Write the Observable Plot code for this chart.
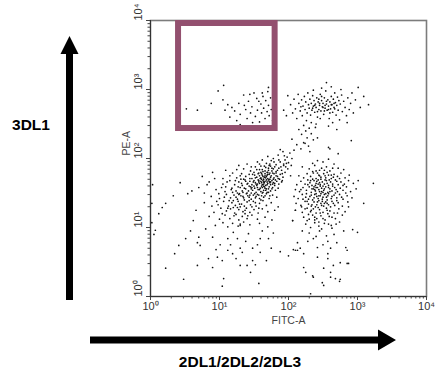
<!DOCTYPE html>
<html><head><meta charset="utf-8">
<script src="https://cdn.jsdelivr.net/npm/d3@7"></script>
<script src="https://cdn.jsdelivr.net/npm/@observablehq/plot@0.6"></script>
<style>html,body{margin:0;padding:0;background:#fff;} #chart{width:439px;height:370px;}</style>
</head><body><div id="chart"></div>
<script>
// Axis ticks and labels
const majorTicks = [1, 10, 100, 1000, 10000];
const tickLabels = ["10⁰", "10¹", "10²", "10³", "10⁴"];
const minorMultipliers = [2, 3, 4, 5, 6, 7, 8, 9];
const xAxisTitle = "FITC-A";
const yAxisTitle = "PE-A";
const xMarkerLabel = "2DL1/2DL2/2DL3";
const yMarkerLabel = "3DL1";

// Gate (FITC range, PE range)
const gateFitc = [2.55, 64];
const gatePe = [272, 9050];

// Events as [log10 FITC-A, log10 PE-A]
const gateEvents = [[0.52,2.72],[0.68,2.70],[0.98,2.98],[1.05,2.85],[1.12,2.78],[1.18,2.74],[1.22,2.69],[1.28,2.80],[1.30,2.64],[1.35,2.92],[1.38,2.71],[1.40,2.58],[1.42,2.83],[1.45,2.66],[1.47,2.75],[1.50,2.95],[1.52,2.61],[1.54,2.87],[1.55,2.70],[1.58,2.53],[1.60,2.79],[1.61,2.66],[1.63,2.90],[1.64,2.73],[1.66,2.58],[1.67,2.84],[1.69,2.68],[1.70,2.97],[1.71,2.77],[1.72,2.62],[1.74,2.88],[1.75,2.71],[1.77,2.55],[1.78,2.81],[1.80,2.66],[1.30,2.49],[1.25,2.55],[1.15,2.60],[1.48,2.52],[1.36,2.77],[1.57,2.83],[1.62,2.95],[1.08,2.70],[0.88,2.80],[1.44,2.93],[1.06,3.06],[1.71,3.03]];
const upperRightEvents = [[1.93,2.70],[1.99,2.91],[1.97,2.62],[2.03,2.78],[2.06,2.66],[2.08,2.86],[2.10,2.72],[2.12,2.58],[2.14,2.93],[2.15,2.80],[2.17,2.69],[2.19,2.85],[2.20,2.62],[2.21,2.76],[2.23,2.90],[2.24,2.71],[2.25,2.82],[2.26,2.55],[2.27,2.66],[2.28,2.95],[2.29,2.78],[2.30,2.73],[2.31,2.86],[2.32,2.63],[2.33,2.80],[2.34,2.70],[2.35,2.91],[2.36,2.76],[2.37,2.84],[2.38,2.67],[2.39,2.79],[2.40,2.74],[2.41,2.88],[2.42,2.60],[2.43,2.82],[2.44,2.71],[2.45,2.77],[2.46,2.93],[2.47,2.69],[2.48,2.84],[2.49,2.75],[2.50,2.80],[2.51,2.64],[2.52,2.88],[2.53,2.73],[2.54,2.98],[2.55,2.79],[2.56,2.70],[2.57,2.85],[2.58,2.76],[2.59,2.58],[2.60,2.82],[2.61,2.72],[2.62,2.90],[2.63,2.78],[2.64,2.67],[2.65,2.86],[2.66,2.74],[2.67,2.95],[2.68,2.81],[2.69,2.63],[2.70,2.77],[2.71,2.89],[2.72,2.70],[2.73,2.84],[2.74,2.56],[2.75,2.79],[2.77,2.92],[2.78,2.68],[2.80,2.83],[2.82,2.74],[2.84,2.62],[2.86,2.88],[2.88,2.71],[2.90,2.80],[2.92,2.95],[2.94,2.66],[2.97,2.85],[3.01,3.03],[3.04,2.74],[3.09,2.90],[3.16,2.78],[2.55,3.10],[2.48,3.02],[2.62,3.04],[2.36,2.99],[2.76,3.00],[2.40,2.50],[2.58,2.47],[2.70,2.42],[2.85,2.52],[2.46,2.58],[2.33,2.52],[2.64,2.52],[2.18,2.75],[2.52,2.69],[2.44,2.86],[2.60,2.66],[2.67,2.72],[2.38,2.77],
[2.50,2.74],[2.55,2.83],[2.45,2.80],[2.58,2.71],[2.42,2.68],[2.35,2.73],[2.62,2.78],[2.48,2.90],[2.53,2.77],[2.66,2.80]];
const bridgeEvents = [[2.22,2.48],[2.25,2.40],[2.30,2.44],[2.19,2.35],[2.27,2.30],[2.33,2.36],[2.24,2.22],[2.29,2.18],[2.36,2.27],[2.18,2.14],[2.31,2.10],[2.12,2.20],[2.08,2.12],[2.39,2.45],[2.15,2.42],[2.05,2.28],[2.60,2.14],[2.42,2.30],[2.91,2.26],[2.58,2.16],[2.72,2.07],[2.22,2.23]];
const diagonalEvents = [[1.85,2.05],[1.92,2.10],[1.98,2.02],[2.02,2.08],[1.78,2.00],[1.95,1.98],[2.05,2.00],[1.88,2.13],[1.70,2.03],
[1.55,1.95],[1.68,1.93],[1.75,1.97],[1.82,1.91],[1.88,1.95],[1.93,1.92],[2.00,1.94],[1.62,1.98],[1.72,1.90],[1.96,1.88],[1.40,1.92],[2.04,1.90],
[1.35,1.85],[1.45,1.82],[1.52,1.88],[1.58,1.84],[1.63,1.81],[1.67,1.87],[1.71,1.83],[1.74,1.89],[1.78,1.85],[1.82,1.81],[1.86,1.86],[1.90,1.83],[1.95,1.80],[1.60,1.89],[1.69,1.80],[1.76,1.82],[1.80,1.88],[1.50,1.80],[1.25,1.84],[1.09,1.83],[0.90,1.80],[1.99,1.85],
[1.15,1.75],[1.25,1.72],[1.32,1.78],[1.38,1.74],[1.43,1.77],[1.47,1.71],[1.51,1.76],[1.54,1.73],[1.57,1.79],[1.60,1.72],[1.62,1.76],[1.64,1.70],[1.66,1.78],[1.68,1.74],[1.70,1.71],[1.72,1.77],[1.74,1.73],[1.77,1.79],[1.79,1.72],[1.82,1.75],[1.85,1.71],[1.88,1.77],[1.92,1.73],[1.58,1.75],[1.65,1.73],[1.73,1.79],[1.61,1.78],[1.69,1.76],[1.05,1.71],[0.75,1.74],
[1.05,1.63],[1.15,1.68],[1.22,1.62],[1.28,1.66],[1.33,1.61],[1.37,1.69],[1.41,1.64],[1.44,1.67],[1.47,1.62],[1.50,1.68],[1.52,1.65],[1.54,1.61],[1.56,1.69],[1.58,1.64],[1.60,1.67],[1.62,1.62],[1.63,1.68],[1.65,1.65],[1.67,1.61],[1.68,1.69],[1.70,1.64],[1.72,1.67],[1.74,1.62],[1.76,1.68],[1.78,1.65],[1.80,1.61],[1.83,1.67],[1.86,1.63],[1.90,1.66],[1.61,1.65],[1.64,1.63],[1.66,1.67],[1.69,1.62],[1.57,1.66],[1.53,1.63],[1.73,1.65],[0.43,1.65],[0.85,1.66],
[0.95,1.55],[1.08,1.52],[1.18,1.57],[1.24,1.53],[1.30,1.58],[1.34,1.51],[1.38,1.56],[1.42,1.53],[1.45,1.59],[1.48,1.54],[1.51,1.57],[1.53,1.51],[1.55,1.58],[1.58,1.55],[1.60,1.52],[1.62,1.58],[1.64,1.54],[1.66,1.57],[1.69,1.51],[1.71,1.56],[1.74,1.53],[1.77,1.58],[1.81,1.54],[1.85,1.57],[1.56,1.55],[1.63,1.51],[1.47,1.58],[1.67,1.54],[1.40,1.50],[0.70,1.58],[0.60,1.53],
[0.54,1.49],[0.33,1.46],[0.88,1.45],[1.00,1.42],[1.10,1.48],[1.16,1.43],[1.21,1.47],[1.26,1.41],[1.31,1.46],[1.35,1.43],[1.39,1.49],[1.43,1.44],[1.46,1.41],[1.49,1.47],[1.52,1.43],[1.55,1.48],[1.58,1.42],[1.61,1.46],[1.64,1.44],[1.68,1.49],[1.72,1.42],[1.77,1.47],[1.83,1.44],[1.44,1.47],[1.36,1.40],[1.53,1.45],[1.28,1.48],
[0.22,1.35],[0.78,1.36],[0.98,1.33],[1.06,1.38],[1.13,1.31],[1.18,1.36],[1.23,1.32],[1.27,1.38],[1.32,1.34],[1.36,1.31],[1.40,1.37],[1.45,1.33],[1.49,1.38],[1.53,1.31],[1.58,1.35],[1.63,1.39],[1.68,1.32],[1.75,1.36],[1.85,1.30],[1.30,1.30],[1.43,1.39],[1.20,1.39],
[0.17,1.29],[0.66,1.25],[0.92,1.22],[1.02,1.28],[1.10,1.24],[1.16,1.27],[1.22,1.21],[1.28,1.26],[1.34,1.23],[1.39,1.28],[1.44,1.22],[1.50,1.26],[1.56,1.21],[1.62,1.27],[1.70,1.23],[1.80,1.25],[1.26,1.29],[1.37,1.20],
[0.62,1.10],[0.85,1.16],[1.00,1.12],[1.08,1.18],[1.15,1.13],[1.21,1.17],[1.28,1.11],[1.33,1.16],[1.40,1.13],[1.47,1.18],[1.55,1.12],[1.66,1.15],[1.76,1.11],[1.24,1.19],
[0.94,1.03],[1.05,1.07],[1.12,1.01],[1.19,1.06],[1.27,1.02],[1.35,1.08],[1.44,1.04],[1.58,1.06],[1.70,1.01],[1.30,1.05],
[1.59,1.71],[1.63,1.74],[1.67,1.72],[1.71,1.69],[1.75,1.75],[1.57,1.68],[1.61,1.60],[1.65,1.59],[1.69,1.66],[1.73,1.70],[1.77,1.63],[1.81,1.69],[1.84,1.74],[1.79,1.78],[1.70,1.80],[1.66,1.82],[1.62,1.84],[1.56,1.78],[1.52,1.72],[1.49,1.66],[1.46,1.56],[1.50,1.60],[1.55,1.63],[1.59,1.57],[1.64,1.60],[1.68,1.56],[1.72,1.59],[1.76,1.56],[1.80,1.64],[1.87,1.70],[1.91,1.78],[1.84,1.83],[1.76,1.86],[1.73,1.92],[1.79,1.95],[1.86,1.98],[1.94,2.04],[1.89,1.88],[1.97,1.93],[1.60,1.80],[1.54,1.84],[1.48,1.77],[1.44,1.71],[1.40,1.63],[1.36,1.57],[1.33,1.53],[1.29,1.49],[1.41,1.46],[1.46,1.50],[1.51,1.49],[1.57,1.47],[1.62,1.50],[1.66,1.46],[1.71,1.51],[1.24,1.44],[1.19,1.51],[1.27,1.59],[1.32,1.64],[1.38,1.67],[1.43,1.60],[1.35,1.70],[1.30,1.75],[1.58,1.92],[1.65,1.89],[1.71,1.86],[1.82,1.79],[1.61,1.70],[1.64,1.66],[1.66,1.75],[1.70,1.77],[1.74,1.66],[1.78,1.70],
[0.82,1.62],[0.93,1.71],[0.99,1.49],[1.03,1.58],[1.07,1.44],[1.11,1.66],[1.14,1.39],[1.17,1.55],[1.20,1.29],[1.23,1.68],[1.26,1.50],[1.29,1.34],[1.31,1.70],[1.34,1.45],[1.37,1.25],[1.12,1.28],[1.04,1.20],[0.96,1.38],[0.89,1.31],[1.47,1.30],[1.52,1.36],[1.57,1.28],[1.41,1.17],[1.09,1.59],[1.19,1.79],[1.28,1.90],[1.46,1.88],[0.78,1.50],[1.60,1.40],[1.73,1.46]];
const rightEvents = [[2.30,1.85],[2.38,1.90],[2.45,1.83],[2.50,1.95],[2.55,1.88],[2.60,1.82],[2.66,1.92],[2.72,1.86],[2.42,1.97],[2.35,1.81],[2.58,1.99],[2.80,1.84],[2.20,1.88],[2.48,1.86],
[2.15,1.75],[2.22,1.72],[2.27,1.78],[2.32,1.74],[2.36,1.79],[2.40,1.71],[2.44,1.76],[2.47,1.73],[2.51,1.78],[2.54,1.72],[2.58,1.76],[2.62,1.71],[2.66,1.77],[2.71,1.74],[2.76,1.79],[2.82,1.72],[2.88,1.76],[2.42,1.79],[2.56,1.80],[3.01,1.68],
[2.12,1.62],[2.18,1.67],[2.24,1.63],[2.28,1.69],[2.31,1.65],[2.34,1.61],[2.37,1.68],[2.40,1.64],[2.43,1.69],[2.46,1.62],[2.49,1.66],[2.52,1.63],[2.55,1.68],[2.58,1.61],[2.61,1.66],[2.64,1.63],[2.68,1.69],[2.72,1.62],[2.76,1.66],[2.81,1.63],[2.87,1.68],[2.94,1.64],[3.23,1.64],[2.45,1.65],[2.39,1.61],[2.53,1.69],
[2.10,1.55],[2.16,1.52],[2.21,1.58],[2.26,1.54],[2.30,1.59],[2.33,1.51],[2.36,1.56],[2.39,1.53],[2.42,1.58],[2.45,1.52],[2.48,1.57],[2.51,1.54],[2.54,1.59],[2.57,1.51],[2.60,1.56],[2.63,1.53],[2.67,1.58],[2.71,1.52],[2.75,1.57],[2.79,1.54],[2.84,1.59],[2.90,1.52],[2.98,1.56],[2.44,1.55],[2.50,1.51],[2.37,1.59],
[2.08,1.45],[2.14,1.42],[2.20,1.48],[2.25,1.44],[2.29,1.41],[2.33,1.47],[2.37,1.43],[2.40,1.49],[2.43,1.42],[2.46,1.46],[2.49,1.41],[2.52,1.48],[2.55,1.44],[2.58,1.49],[2.62,1.42],[2.66,1.47],[2.70,1.43],[2.74,1.48],[2.79,1.41],[2.85,1.46],[2.92,1.43],[2.47,1.49],[2.41,1.45],[2.56,1.40],
[2.11,1.35],[2.18,1.32],[2.24,1.38],[2.29,1.34],[2.33,1.31],[2.37,1.37],[2.41,1.33],[2.44,1.39],[2.47,1.35],[2.51,1.31],[2.54,1.37],[2.58,1.33],[2.63,1.38],[2.67,1.32],[2.72,1.36],[2.78,1.31],[2.86,1.37],[3.09,1.35],[2.49,1.38],[2.39,1.30],
[2.10,1.25],[2.20,1.22],[2.27,1.28],[2.32,1.23],[2.36,1.27],[2.40,1.21],[2.45,1.26],[2.50,1.22],[2.55,1.28],[2.60,1.24],[2.66,1.21],[2.73,1.27],[2.82,1.23],[2.43,1.29],
[2.06,1.10],[2.22,1.15],[2.30,1.12],[2.35,1.18],[2.41,1.13],[2.47,1.17],[2.53,1.11],[2.59,1.16],[2.68,1.13],[2.78,1.18],[2.38,1.11],
[2.25,1.05],[2.32,1.00],[2.38,1.07],[2.44,1.02],[2.52,1.06],[2.62,1.03],[2.74,1.08],[2.93,0.97],[3.00,0.93],
[2.36,0.84],[2.42,0.71],[2.57,0.62],[2.83,0.71],[2.85,0.48],[2.22,0.42],[2.51,0.41],[2.36,0.28],[2.75,0.25],[2.32,0.04],[2.00,0.59],[2.13,0.67],[2.61,0.35],[2.68,0.26],[2.49,0.20],[2.85,0.67],[2.75,0.49],[2.87,0.48],[2.65,0.45],[2.25,0.35],[2.35,0.30],[2.61,0.28],[2.74,0.22],[2.51,0.16],[2.13,0.78],[2.10,0.67],[2.22,0.62],[2.42,0.57],[2.57,0.55],[2.61,0.70],[2.57,0.80],[2.17,0.70],[2.30,0.92],[2.45,0.95],[2.55,0.88],[2.66,0.90],[2.28,0.80],[2.70,0.78],[2.40,0.87],[2.50,0.75],[2.07,0.68],[2.20,0.95],[2.80,0.95],[2.63,0.99],
[1.93,1.90],[1.91,1.68],[2.03,1.75],[2.10,1.25],[2.06,1.10],
[2.35,1.70],[2.41,1.67],[2.47,1.70],[2.53,1.75],[2.59,1.69],[2.65,1.73],[2.70,1.67],[2.34,1.56],[2.40,1.58],[2.46,1.60],[2.52,1.56],[2.58,1.58],[2.64,1.60],[2.69,1.55],[2.31,1.45],[2.38,1.48],[2.44,1.46],[2.50,1.44],[2.57,1.46],[2.63,1.45],[2.68,1.50],[2.27,1.38],[2.35,1.40],[2.42,1.37],[2.48,1.32],[2.56,1.35],[2.61,1.30],[2.70,1.39],[2.28,1.62],[2.32,1.68],[2.62,1.76],[2.74,1.71],[2.79,1.61],[2.83,1.50],[2.77,1.44],[2.33,1.25],[2.46,1.21],[2.57,1.20],[2.38,1.15],[2.50,1.13],[2.26,1.49],[2.21,1.41],[2.18,1.55],[2.48,1.52],[2.54,1.49],[2.60,1.52],[2.43,1.63],[2.56,1.64],[2.50,1.60],[2.38,1.55],[2.45,1.75],[2.40,1.82],[2.52,1.83],[2.64,1.86],[2.35,1.93],
[2.24,1.27],[2.29,1.19],[2.44,1.08],[2.56,1.25],[2.63,1.15],[2.71,1.21],[2.58,1.05],[2.34,1.33],[2.52,1.35],[2.65,1.35],[2.27,1.10],[2.48,0.98],[2.69,1.05],[2.19,1.30],[2.87,1.30]];
const scatterEvents = [[0.02,1.07],[0.07,0.96],[0.22,0.41],[0.48,0.25],[0.41,0.74],[0.51,0.84],[0.68,0.45],[0.72,0.74],[0.70,0.86],[0.90,0.42],[0.84,0.55],[0.97,0.57],[1.04,0.52],[1.06,0.26],[1.04,0.15],[1.01,0.75],[1.12,0.67],[1.19,0.62],[1.16,0.75],[1.12,0.84],[1.26,0.84],[1.30,0.70],[1.33,0.64],[1.30,0.45],[1.40,0.45],[1.45,0.35],[1.48,0.52],[1.48,0.70],[1.52,0.46],[1.59,0.64],[1.59,0.84],[1.57,0.19],[1.68,0.52],[1.71,0.84],[1.88,0.65],[0.68,0.78],[0.90,0.86],[1.20,0.93],[1.42,0.91],[1.30,1.03],[0.58,0.95],[0.80,0.98],[1.62,0.95],[1.78,0.92],[1.38,0.80],[1.24,0.55],[0.35,0.62],[0.95,0.68],[1.55,0.75],[1.75,0.70],[0.12,1.20],[0.05,0.90],[0.02,1.35],[0.03,1.62]];

const events = [...gateEvents, ...upperRightEvents, ...bridgeEvents, ...diagonalEvents, ...rightEvents, ...scatterEvents];
const minorTicks = majorTicks.slice(0, 4).flatMap(m => minorMultipliers.map(k => k * m));
const gate = [{x1: gateFitc[0], x2: gateFitc[1], y1: gatePe[0], y2: gatePe[1]}];

const font = "'Liberation Sans', Arial, sans-serif";
const chart = Plot.plot({
  width: 439, height: 370,
  marginLeft: 150, marginRight: 13, marginTop: 20, marginBottom: 74,
  x: {type: "log", domain: [1, 1e4]},
  y: {type: "log", domain: [1, 1e4]},
  style: {fontFamily: font, fontSize: "10px", color: "#333", background: "#fff"},
  marks: [
    Plot.frame({stroke: "#7c7c7c", strokeWidth: 1.6}),
    Plot.dot(events, {x: d => 10 ** d[0], y: d => 10 ** d[1], r: 0.85, fill: "#111", stroke: null}),
    Plot.rect(gate, {x1: "x1", x2: "x2", y1: "y1", y2: "y2", stroke: "#93506f", strokeWidth: 6, fill: "none"}),
    Plot.axisX({ticks: minorTicks, tickSize: 2.5, tickFormat: () => "", label: null, stroke: "#444"}),
    Plot.axisX({ticks: majorTicks, tickSize: 4, tickFormat: () => "", label: null, stroke: "#444"}),
    Plot.axisY({ticks: minorTicks, tickSize: 2.5, tickFormat: () => "", label: null, stroke: "#444"}),
    Plot.axisY({ticks: majorTicks, tickSize: 4, tickFormat: () => "", label: null, stroke: "#444"}),
    Plot.ruleX([1], {stroke: "#333"}),
    Plot.ruleY([1], {stroke: "#333"}),
    Plot.text(majorTicks, {x: d => d, text: (d, i) => tickLabels[i], frameAnchor: "bottom", dy: 10, lineAnchor: "middle", fill: "#333", fontSize: 11}),
    Plot.text(majorTicks, {y: d => d, text: (d, i) => tickLabels[i], frameAnchor: "left", dx: -12, rotate: -90, lineAnchor: "middle", fill: "#333", fontSize: 11}),
    Plot.text([xAxisTitle], {frameAnchor: "bottom", dy: 24, lineAnchor: "middle", fill: "#444", fontSize: 10.5}),
    Plot.text([yAxisTitle], {frameAnchor: "left", dx: -24, dy: -3, rotate: -90, lineAnchor: "middle", fill: "#444", fontSize: 10.5})
  ]
});
document.getElementById("chart").appendChild(chart);

// Big annotation arrows and their labels
const svg = d3.select(chart);
svg.append("polygon")
  .attr("points", "66,300 73,300 73,54 78.5,54 69.5,36 60.5,54 66,54")
  .attr("fill", "#000");
svg.append("polygon")
  .attr("points", "90,336.5 378,336.5 378,329.5 396,340 378,350.5 378,343.5 90,343.5")
  .attr("fill", "#000");
svg.append("text").attr("x", 31).attr("y", 124).attr("text-anchor", "middle").attr("dominant-baseline", "central")
  .attr("font-family", font).attr("font-weight", "bold").attr("font-size", 15.5).attr("fill", "#000").text(yMarkerLabel);
svg.append("text").attr("x", 240).attr("y", 361).attr("text-anchor", "middle").attr("dominant-baseline", "central")
  .attr("font-family", font).attr("font-weight", "bold").attr("font-size", 15.5).attr("fill", "#000").text(xMarkerLabel);
</script>
</body></html>
